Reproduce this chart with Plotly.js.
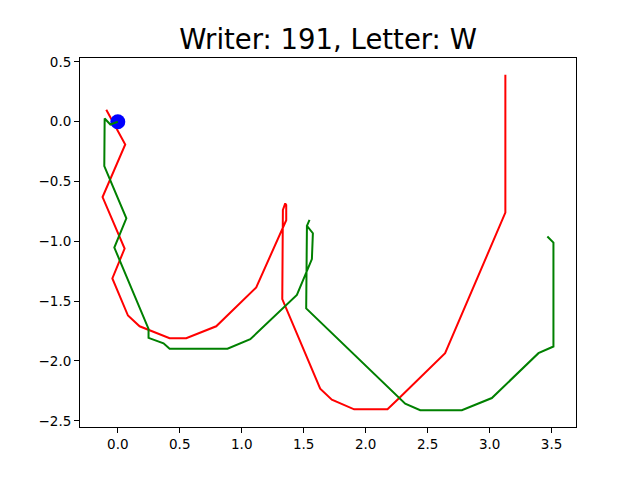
<!DOCTYPE html>
<html>
<head>
<meta charset="utf-8">
<script src="https://cdn.plot.ly/plotly-3.0.1.min.js"></script>
<style>
  html, body { margin: 0; padding: 0; background: #fff; }
  #chart { width: 640px; height: 480px; }
</style>
</head>
<body>
<div id="chart"></div>
<script>
// pen strokes
let redX = [-0.093, 0.06, -0.123, 0.055, -0.044, 0.082, 0.176, 0.418, 0.552, 0.794, 1.117, 1.359, 1.359, 1.351, 1.332, 1.327, 1.633, 1.727, 1.907, 2.176, 2.273, 2.641, 3.127, 3.127];
let redY = [0.10, -0.19, -0.63, -1.06, -1.31, -1.62, -1.71, -1.81, -1.81, -1.71, -1.385, -0.823, -0.696, -0.683, -0.738, -1.483, -2.232, -2.323, -2.404, -2.404, -2.307, -1.935, -0.76, 0.393];

let greenX = [0.0, -0.06, -0.106, -0.109, 0.069, -0.028, 0.248, 0.248, 0.369, 0.418, 0.885, 1.069, 1.445, 1.566, 1.574, 1.526, 1.547, 1.526, 1.52, 2.273, 2.319, 2.44, 2.776, 3.018, 3.394, 3.515, 3.515, 3.466];
let greenY = [0.0, -0.023, 0.027, -0.371, -0.807, -1.052, -1.732, -1.807, -1.852, -1.898, -1.898, -1.818, -1.448, -1.148, -0.932, -0.871, -0.821, -0.871, -1.56, -2.307, -2.357, -2.412, -2.412, -2.31, -1.935, -1.879, -1.01, -0.96];

let startX = [0.0];
let startY = [0.0];

let titleText = "Writer: 191, Letter: W";

let font = "DejaVu Sans, sans-serif";

let data = [
	{x: redX, y: redY, mode: "lines", line: {color: "#ff0000", width: 2}, hoverinfo: "skip"},
	{x: startX, y: startY, mode: "markers", marker: {color: "#0000ff", size: 15}, hoverinfo: "skip"},
	{x: greenX, y: greenY, mode: "lines", line: {color: "#008000", width: 2}, hoverinfo: "skip"}
];

let axis = {
	showgrid: false,
	zeroline: false,
	showline: true,
	mirror: true,
	linecolor: "#000",
	linewidth: 1,
	ticks: "outside",
	ticklen: 5,
	tickwidth: 1,
	tickcolor: "#000",
	tickformat: ".1f",
	tickfont: {family: font, size: 13.5, color: "#000"}
};

let layout = {
	width: 640,
	height: 480,
	margin: {l: 80, r: 64, t: 58, b: 53},
	paper_bgcolor: "#fff",
	plot_bgcolor: "#fff",
	showlegend: false,
	title: {text: titleText, font: {family: font, size: 27.5, color: "#000"}, x: 0.5, xref: "paper", xanchor: "center", y: 1 - 39/480, yref: "container", yanchor: "middle"},
	xaxis: Object.assign({}, axis, {range: [-0.305, 3.697], dtick: 0.5, tick0: 0}),
	yaxis: Object.assign({}, axis, {range: [-2.552, 0.533], dtick: 0.5, tick0: 0})
};

Plotly.newPlot("chart", data, layout, {staticPlot: true, displayModeBar: false});
</script>
</body>
</html>
